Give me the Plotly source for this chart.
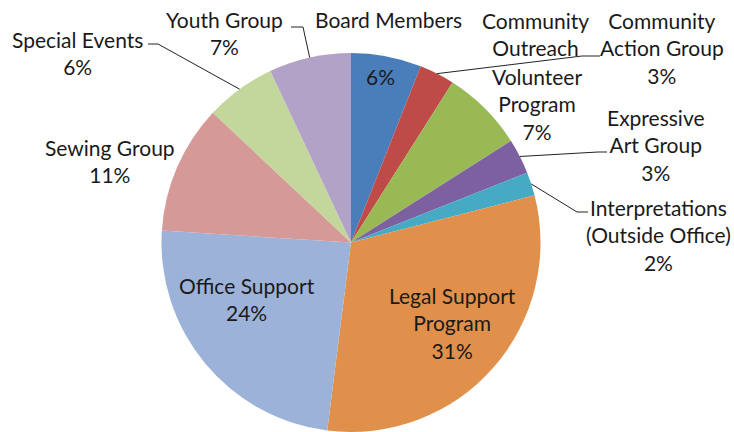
import math
import plotly.graph_objects as go

categories = ["Board Members", "Community Outreach", "Volunteer Program", "Expressive Art Group",
              "Interpretations (Outside Office)", "Legal Support Program", "Office Support",
              "Sewing Group", "Special Events", "Youth Group"]
values = [6, 3, 7, 3, 2, 31, 24, 11, 6, 7]
colors = ["#4A7EBB", "#BE4B48", "#98B954", "#7D60A0", "#46AAC5", "#E0904A",
          "#9DB2D8", "#D59A97", "#C3D69B", "#B3A2C7"]

W, H = 734, 432
CX, CY, R = 351, 242.5, 189.5  # pie layout in pixels

fig = go.Figure(go.Pie(
    labels=categories, values=values, sort=False, direction="clockwise", rotation=0,
    marker=dict(colors=colors, line=dict(width=0)),
    textinfo="none", hoverinfo="label+percent", showlegend=False,
    domain=dict(x=[(CX - R) / W, (CX + R) / W], y=[0, 2 * R / H]),
))

FONT = dict(family="Lato, 'Open Sans', sans-serif", size=21, color="#1a1a1a")

# label texts and their pixel centers (layout)
labels = [
    ("Board Members", 388, 20),
    ("6%", 381, 76),
    ("Community<br>Outreach", 535, 34),
    ("Community<br>Action Group<br>3%", 662, 48),
    ("Volunteer<br>Program<br>7%", 537, 104),
    ("Expressive<br>Art Group<br>3%", 656, 145),
    ("Interpretations<br>(Outside Office)<br>2%", 658, 235),
    ("Legal Support<br>Program<br>31%", 453, 323),
    ("Office Support<br>24%", 247, 299),
    ("Sewing Group<br>11%", 110, 161),
    ("Special Events<br>6%", 77, 53),
    ("Youth Group<br>7%", 225, 33),
]
for txt, x, y in labels:
    fig.add_annotation(text=txt, x=x / W, y=1 - y / H, xref="paper", yref="paper",
                       showarrow=False, font=FONT, align="center",
                       xanchor="center", yanchor="middle")

# leader lines: start on slice edge at mid-angle, then elbow to label
total = sum(values)
cum = []
acc = 0
for v in values:
    cum.append(acc + v / 2)
    acc += v

def edge(i):
    ang = 2 * math.pi * cum[i] / total
    return CX + R * math.sin(ang), CY - R * math.cos(ang)

leaders = {
    1: [(582, 56), (600, 56)],
    3: [(598, 152), (607, 152)],
    4: [(577, 212), (588, 212)],
    8: [(158, 44), (148, 44)],
    9: [(303, 27), (291, 27)],
}
for i, pts in leaders.items():
    sx, sy = edge(i)
    path_pts = [(sx, sy)] + pts
    path = "M " + " L ".join(f"{px / W},{1 - py / H}" for px, py in path_pts)
    fig.add_shape(type="path", path=path, xref="paper", yref="paper",
                  line=dict(color="#222222", width=1))

fig.update_layout(width=W, height=H, margin=dict(l=0, r=0, t=0, b=0),
                  paper_bgcolor="white", plot_bgcolor="white")
fig.write_html("out.html", config={"displayModeBar": False},
               post_script="document.body.style.margin='0';")
